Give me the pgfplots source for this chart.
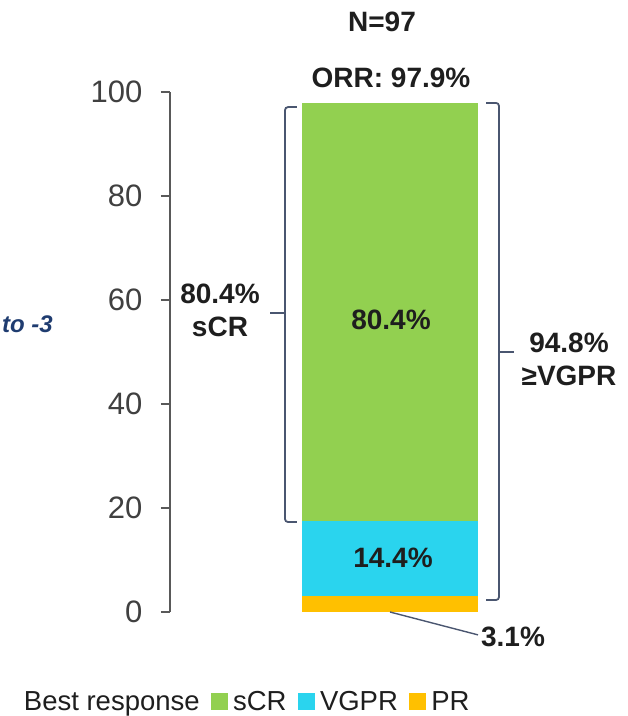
\documentclass[border=0pt]{standalone}
\usepackage{pgfplots}
\pgfplotsset{compat=1.18}
\usepackage{fontspec}
\setmainfont{Liberation Sans}
\definecolor{cgreen}{HTML}{92D050}
\definecolor{ccyan}{HTML}{2AD4EE}
\definecolor{corange}{HTML}{FFC000}
\definecolor{cbrace}{HTML}{4A5670}
\definecolor{ctext}{HTML}{1E1E1E}
\definecolor{caxis}{HTML}{595959}
\definecolor{ctick}{HTML}{404040}
\definecolor{cnavy}{HTML}{1F3C70}
\begin{document}
\begin{tikzpicture}[x=1pt,y=1pt]
\useasboundingbox (-170,-104) rectangle (458,612);
\begin{axis}[
  at={(0,0)}, anchor=south west, scale only axis,
  width=450pt, height=520pt,
  xmin=170, xmax=620, ymin=0, ymax=100,
  axis x line=none, axis y line*=left,
  ytick={0,20,40,60,80,100},
  tick align=outside, major tick length=9pt,
  axis line style={caxis, line width=2pt},
  tick style={caxis, line width=1.6pt},
  /pgf/number format/assume math mode=true,
  yticklabel style={font=\fontsize{31}{36}\selectfont, text=ctick, xshift=-15pt},
  ybar stacked, bar width=176,
  clip=false,
  legend style={at={(-0.345,-0.173)}, anchor=west, draw=none, fill=none,
    legend columns=-1, font=\fontsize{27.5}{31}\selectfont, text=ctext,
    nodes={inner xsep=2pt},
    /tikz/every odd column/.append style={column sep=4pt},
    /tikz/every even column/.append style={column sep=9pt}},
  legend cell align=left,
]
\addplot[fill=corange, draw=none, forget plot] coordinates {(390,3.1)};
\addplot[fill=ccyan, draw=none, forget plot] coordinates {(390,14.4)};
\addplot[fill=cgreen, draw=none, forget plot] coordinates {(390,80.4)};

\addlegendimage{empty legend}\addlegendentry{Best response}
\addlegendimage{legend image code/.code={\fill[cgreen] (0pt,-7pt) rectangle (16pt,9pt);}}\addlegendentry{sCR}
\addlegendimage{legend image code/.code={\fill[ccyan] (0pt,-7pt) rectangle (16pt,9pt);}}\addlegendentry{VGPR}
\addlegendimage{legend image code/.code={\fill[corange] (0pt,-7pt) rectangle (16pt,9pt);}}\addlegendentry{PR}

\coordinate (L1) at (axis cs:297,97.1);
\coordinate (L2) at (axis cs:285,97.1);
\coordinate (L3) at (axis cs:285,17.3);
\coordinate (L4) at (axis cs:297,17.3);
\coordinate (L5) at (axis cs:285,57.5);
\coordinate (L6) at (axis cs:270,57.5);
\coordinate (R1) at (axis cs:486,97.9);
\coordinate (R2) at (axis cs:499,97.9);
\coordinate (R3) at (axis cs:499,2.3);
\coordinate (R4) at (axis cs:486,2.3);
\coordinate (R5) at (axis cs:499,50);
\coordinate (R6) at (axis cs:514,50);
\coordinate (P1) at (axis cs:390,0);
\coordinate (P2) at (axis cs:478,-4.4);
\coordinate (tN) at (axis cs:382,113.5);
\coordinate (tO) at (axis cs:391,102.7);
\coordinate (tA) at (axis cs:391,56.2);
\coordinate (tB) at (axis cs:393,10.4);
\coordinate (tC) at (axis cs:513,-4.8);
\coordinate (tL) at (axis cs:220,58.1);
\coordinate (tR) at (axis cs:569,48.5);
\coordinate (tT) at (axis cs:53,55.4);
\end{axis}
% brackets
\draw[cbrace, line width=1.8pt, rounded corners=3pt] (L1) -- (L2) -- (L3) -- (L4);
\draw[cbrace, line width=1.8pt] (L5) -- (L6);
\draw[cbrace, line width=1.8pt, rounded corners=3pt] (R1) -- (R2) -- (R3) -- (R4);
\draw[cbrace, line width=1.8pt] (R5) -- (R6);
\draw[cbrace, line width=1.4pt] (P1) -- (P2);
% labels
\node[font=\fontsize{28}{33}\selectfont\bfseries, text=ctext] at (tN) {N=97};
\node[font=\fontsize{28}{33}\selectfont\bfseries, text=ctext] at (tO) {ORR: 97.9\%};
\node[font=\fontsize{28}{33}\selectfont\bfseries, text=ctext] at (tA) {80.4\%};
\node[font=\fontsize{28}{33}\selectfont\bfseries, text=ctext] at (tB) {14.4\%};
\node[font=\fontsize{28}{33}\selectfont\bfseries, text=ctext] at (tC) {3.1\%};
\node[font=\fontsize{28}{33}\selectfont\bfseries, text=ctext, align=center] at (tL) {80.4\%\\sCR};
\node[font=\fontsize{28}{33}\selectfont\bfseries, text=ctext, align=center] at (tR) {94.8\%\\≥VGPR};
\node[font=\fontsize{24}{28}\selectfont\bfseries\itshape, text=cnavy, anchor=east, inner sep=0pt] at (tT) {to -3};
\end{tikzpicture}
\end{document}
